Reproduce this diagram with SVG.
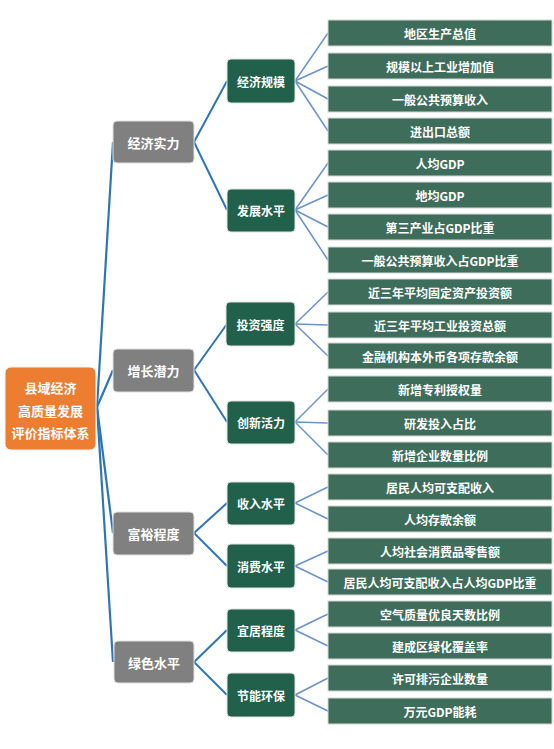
<svg xmlns="http://www.w3.org/2000/svg" width="554" height="749" viewBox="0 0 554 749">
<style>
text{font-family:"Noto Sans CJK SC","Microsoft YaHei",sans-serif;fill:#fff;text-anchor:middle;dominant-baseline:central;font-weight:bold}
.root rect{fill:#ED7D31;stroke:#f2f2f2;stroke-width:1}
.l1 rect{fill:#808080;stroke:#e0e0e0;stroke-width:1}
.l2 rect{fill:#21604A;stroke:#e0e0e0;stroke-width:1}
.leaf rect{fill:#3E6D5B;stroke:#d6d6d6;stroke-width:1}
.root text,.l1 text{font-size:13px}
.l2 text{font-size:12px}
.leaf text{font-size:12px}
.c1 line{stroke:#2E75B6;stroke-width:2.2;fill:none}
.c2 line{stroke:#2E75B6;stroke-width:2;fill:none}
.c3 line{stroke:#6A92C6;stroke-width:1.5;fill:none}
</style>
<rect width="554" height="749" fill="#fff"/>
<g id="connectors">
<g class="c1">
<line x1="97" y1="407" x2="113" y2="142"/>
<line x1="97" y1="407" x2="113" y2="370"/>
<line x1="97" y1="407" x2="113" y2="533"/>
<line x1="97" y1="407" x2="113" y2="662"/>
</g>
<g class="c2">
<line x1="194" y1="142" x2="227" y2="81"/>
<line x1="194" y1="142" x2="227" y2="210"/>
<line x1="194" y1="370" x2="227" y2="324"/>
<line x1="194" y1="370" x2="227" y2="422"/>
<line x1="194" y1="533" x2="227" y2="503"/>
<line x1="194" y1="533" x2="227" y2="566"/>
<line x1="194" y1="662" x2="227" y2="630"/>
<line x1="194" y1="662" x2="227" y2="695"/>
</g>
<g class="c3">
<line x1="295" y1="81" x2="328" y2="33"/>
<line x1="295" y1="81" x2="328" y2="66"/>
<line x1="295" y1="81" x2="328" y2="99"/>
<line x1="295" y1="81" x2="328" y2="131"/>
<line x1="295" y1="210" x2="328" y2="163"/>
<line x1="295" y1="210" x2="328" y2="195"/>
<line x1="295" y1="210" x2="328" y2="227"/>
<line x1="295" y1="210" x2="328" y2="260"/>
<line x1="295" y1="324" x2="328" y2="292"/>
<line x1="295" y1="324" x2="328" y2="325"/>
<line x1="295" y1="324" x2="328" y2="356"/>
<line x1="295" y1="422" x2="328" y2="389"/>
<line x1="295" y1="422" x2="328" y2="423"/>
<line x1="295" y1="422" x2="328" y2="455"/>
<line x1="295" y1="503" x2="328" y2="487"/>
<line x1="295" y1="503" x2="328" y2="519"/>
<line x1="295" y1="566" x2="328" y2="551"/>
<line x1="295" y1="566" x2="328" y2="582"/>
<line x1="295" y1="630" x2="328" y2="614"/>
<line x1="295" y1="630" x2="328" y2="646"/>
<line x1="295" y1="695" x2="328" y2="678"/>
<line x1="295" y1="695" x2="328" y2="711"/>
</g>
</g>
<g id="root" class="root"><rect x="5" y="367" width="91" height="83" rx="6"/><text x="50.5" y="387">县域经济</text><text x="50.5" y="410">高质量发展</text><text x="50.5" y="432">评价指标体系</text></g>
<g id="n-jjsl" class="l1"><rect x="113" y="121" width="81" height="42" rx="4"/><text x="153.5" y="142">经济实力</text></g>
<g id="n-zzql" class="l1"><rect x="113" y="349" width="81" height="43" rx="4"/><text x="153.5" y="370.5">增长潜力</text></g>
<g id="n-fycd" class="l1"><rect x="113" y="512" width="81" height="43" rx="4"/><text x="153.5" y="533.5">富裕程度</text></g>
<g id="n-lssp" class="l1"><rect x="114" y="641" width="80" height="42" rx="4"/><text x="154" y="662">绿色水平</text></g>
<g id="n-jjgm" class="l2"><rect x="227" y="59" width="68" height="44" rx="4"/><text x="261" y="81">经济规模</text></g>
<g id="n-fzsp" class="l2"><rect x="227" y="189" width="68" height="43" rx="4"/><text x="261" y="210.5">发展水平</text></g>
<g id="n-tzqd" class="l2"><rect x="226" y="302" width="69" height="44" rx="4"/><text x="260.5" y="324">投资强度</text></g>
<g id="n-cxhl" class="l2"><rect x="227" y="401" width="68" height="43" rx="4"/><text x="261" y="422.5">创新活力</text></g>
<g id="n-srsp" class="l2"><rect x="227" y="482" width="68" height="43" rx="4"/><text x="261" y="503.5">收入水平</text></g>
<g id="n-xfsp" class="l2"><rect x="227" y="544" width="68" height="44" rx="4"/><text x="261" y="566">消费水平</text></g>
<g id="n-yjcd" class="l2"><rect x="227" y="609" width="68" height="43" rx="4"/><text x="261" y="630.5">宜居程度</text></g>
<g id="n-jnhb" class="l2"><rect x="227" y="673" width="68" height="44" rx="4"/><text x="261" y="695">节能环保</text></g>
<g id="leaf1" class="leaf"><rect x="328" y="20" width="224" height="26"/><text x="440" y="33">地区生产总值</text></g>
<g id="leaf2" class="leaf"><rect x="328" y="53" width="224" height="26"/><text x="440" y="66">规模以上工业增加值</text></g>
<g id="leaf3" class="leaf"><rect x="328" y="86" width="224" height="26"/><text x="440" y="99">一般公共预算收入</text></g>
<g id="leaf4" class="leaf"><rect x="328" y="118" width="224" height="26"/><text x="440" y="131">进出口总额</text></g>
<g id="leaf5" class="leaf"><rect x="328" y="150" width="224" height="26"/><text x="440" y="163">人均GDP</text></g>
<g id="leaf6" class="leaf"><rect x="328" y="182" width="224" height="26"/><text x="440" y="195">地均GDP</text></g>
<g id="leaf7" class="leaf"><rect x="328" y="214" width="224" height="26"/><text x="440" y="227">第三产业占GDP比重</text></g>
<g id="leaf8" class="leaf"><rect x="328" y="247" width="224" height="26"/><text x="440" y="260">一般公共预算收入占GDP比重</text></g>
<g id="leaf9" class="leaf"><rect x="328" y="279" width="224" height="26"/><text x="440" y="292">近三年平均固定资产投资额</text></g>
<g id="leaf10" class="leaf"><rect x="328" y="312" width="224" height="26"/><text x="440" y="325">近三年平均工业投资总额</text></g>
<g id="leaf11" class="leaf"><rect x="328" y="343" width="224" height="26"/><text x="440" y="356">金融机构本外币各项存款余额</text></g>
<g id="leaf12" class="leaf"><rect x="328" y="376" width="224" height="26"/><text x="440" y="389">新增专利授权量</text></g>
<g id="leaf13" class="leaf"><rect x="328" y="410" width="224" height="26"/><text x="440" y="423">研发投入占比</text></g>
<g id="leaf14" class="leaf"><rect x="328" y="442" width="224" height="26"/><text x="440" y="455">新增企业数量比例</text></g>
<g id="leaf15" class="leaf"><rect x="328" y="474" width="224" height="26"/><text x="440" y="487">居民人均可支配收入</text></g>
<g id="leaf16" class="leaf"><rect x="328" y="506" width="224" height="26"/><text x="440" y="519">人均存款余额</text></g>
<g id="leaf17" class="leaf"><rect x="328" y="538" width="224" height="26"/><text x="440" y="551">人均社会消费品零售额</text></g>
<g id="leaf18" class="leaf"><rect x="328" y="569" width="224" height="26"/><text x="440" y="582">居民人均可支配收入占人均GDP比重</text></g>
<g id="leaf19" class="leaf"><rect x="328" y="601" width="224" height="26"/><text x="440" y="614">空气质量优良天数比例</text></g>
<g id="leaf20" class="leaf"><rect x="328" y="633" width="224" height="26"/><text x="440" y="646">建成区绿化覆盖率</text></g>
<g id="leaf21" class="leaf"><rect x="328" y="665" width="224" height="26"/><text x="440" y="678">许可排污企业数量</text></g>
<g id="leaf22" class="leaf"><rect x="328" y="698" width="224" height="26"/><text x="440" y="711">万元GDP能耗</text></g>
</svg>
